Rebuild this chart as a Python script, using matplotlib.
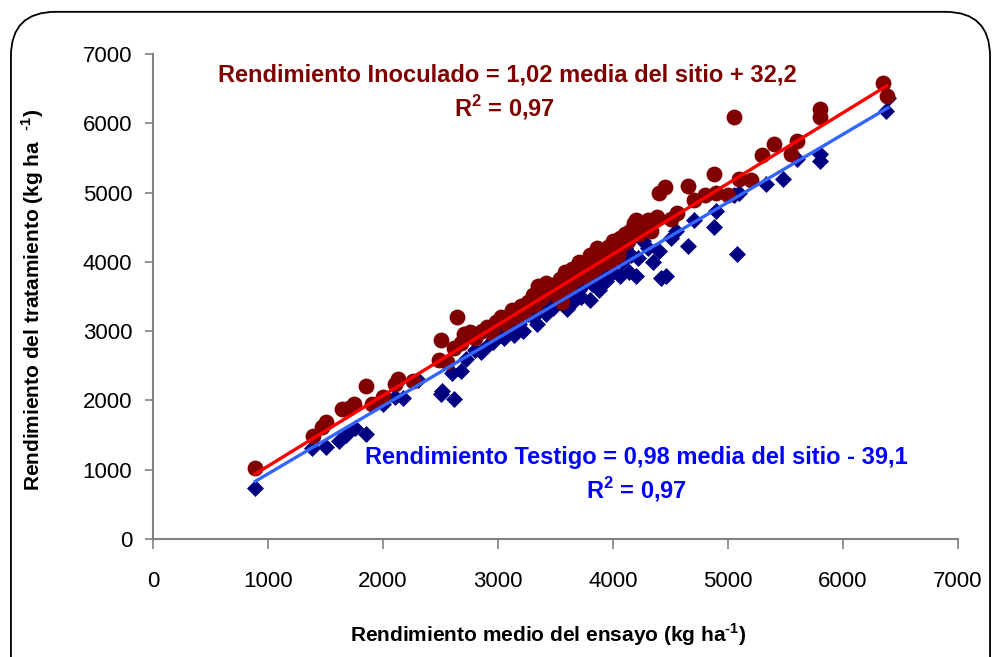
"""
Rendimiento del tratamiento vs rendimiento medio del ensayo (inoculado vs testigo)
"""

import matplotlib.pyplot as plt
from matplotlib.patches import FancyBboxPatch

plt.rcParams["font.family"] = ["Liberation Sans", "DejaVu Sans"]
plt.rcParams["mathtext.fontset"] = "custom"
plt.rcParams["mathtext.rm"] = "Liberation Sans:bold"
plt.rcParams["mathtext.bf"] = "Liberation Sans:bold"

# Inoculado (circulos rojo oscuro): media del ensayo, rendimiento
inoc_x = [889, 1390, 1470, 1500, 1640, 1700, 1750, 1850, 1900, 2000, 2100, 2130, 2260,
          2490, 2500, 2560, 2620, 2640, 2680, 2700, 2760, 2800, 2860, 2900, 2950, 2980,
          3030, 3060, 3100, 3120, 3160, 3200, 3230, 3260, 3300, 3320, 3350, 3380, 3400,
          3420, 3450, 3480, 3500, 3520, 3540, 3560, 3580, 3600, 3620, 3640, 3660, 3680,
          3700, 3720, 3740, 3760, 3780, 3800, 3820, 3840, 3860, 3880, 3900, 3920, 3940,
          3960, 3980, 4000, 4020, 4040, 4060, 4080, 4100, 4130, 4150, 4180, 4200, 4230,
          4260, 4300, 4330, 4380, 4400, 4450, 4500, 4560, 4650, 4700, 4800, 4880, 4900,
          5000, 5050, 5100, 5200, 5300, 5400, 5550, 5600, 5800, 5800, 6350, 6380]
inoc_y = [1020, 1480, 1620, 1690, 1880, 1890, 1950, 2210, 1950, 2050, 2230, 2310, 2280,
          2580, 2870, 2560, 2750, 3210, 2830, 2960, 2990, 2900, 3000, 3060, 2970, 3130,
          3200, 3100, 3230, 3300, 3200, 3360, 3280, 3420, 3520, 3380, 3650, 3480, 3590,
          3700, 3580, 3660, 3620, 3500, 3750, 3420, 3850, 3700, 3640, 3900, 3800, 3750,
          4000, 3860, 3820, 3950, 3780, 4100, 4000, 3900, 4200, 4050, 3970, 4150, 4080,
          4220, 4000, 4300, 4180, 4100, 4350, 4250, 4400, 4300, 4450, 4560, 4600, 4400,
          4520, 4600, 4450, 4650, 5000, 5080, 4620, 4700, 5100, 4900, 4960, 5270, 5000,
          4960, 6090, 5200, 5180, 5540, 5700, 5560, 5750, 6200, 6090, 6580, 6400]

# Testigo (rombos azul oscuro)
test_x = [890, 1380, 1500, 1620, 1680, 1760, 1850, 2000, 2100, 2170, 2300, 2500, 2510,
          2600, 2620, 2680, 2720, 2800, 2850, 2900, 2960, 3000, 3050, 3100, 3140, 3180,
          3220, 3260, 3300, 3340, 3380, 3420, 3440, 3480, 3500, 3520, 3560, 3580, 3600,
          3640, 3660, 3700, 3720, 3760, 3800, 3820, 3860, 3880, 3900, 3940, 3960, 4000,
          4020, 4060, 4080, 4100, 4140, 4160, 4200, 4220, 4260, 4300, 4350, 4400, 4420,
          4460, 4500, 4550, 4650, 4700, 4880, 4900, 5050, 5080, 5100, 5330, 5480, 5600,
          5800, 5800, 6370, 6390]
test_y = [740, 1320, 1330, 1420, 1500, 1600, 1520, 1950, 2050, 2030, 2300, 2100, 2140,
          2400, 2020, 2430, 2600, 2730, 2700, 2780, 2850, 2980, 2900, 3020, 2950, 3100,
          3000, 3250, 3200, 3100, 3330, 3250, 3400, 3340, 3600, 3450, 3800, 3500, 3320,
          3400, 3550, 3600, 3500, 3700, 3450, 3680, 3750, 3600, 3800, 3720, 3900, 3850,
          3980, 3800, 4000, 4200, 3850, 4100, 3800, 4050, 4300, 4200, 4000, 4150, 3770,
          3800, 4350, 4450, 4230, 4600, 4510, 4730, 4960, 4120, 5000, 5130, 5200, 5480,
          5450, 5560, 6180, 6360]

# ajustes lineales publicados
inoc_fit = (1.02, 32.2)
test_fit = (0.98, -39.1)

ticks = [0, 1000, 2000, 3000, 4000, 5000, 6000, 7000]


def fit_line(xs, coef):
    x0, x1 = min(xs), max(xs)
    return [x0, x1], [coef[0] * x0 + coef[1], coef[0] * x1 + coef[1]]


fig = plt.figure(figsize=(9.95, 6.57), dpi=100)
ax = fig.add_axes([0.1538, 0.1796, 0.809, 0.7382])

# marco redondeado alrededor del grafico (cortado abajo)
frame = FancyBboxPatch((0.011, -0.2), 0.984, 1.182, boxstyle="round,pad=0,rounding_size=0.045",
                       transform=fig.transFigure, facecolor="none", edgecolor="black",
                       linewidth=1.3, clip_on=False, mutation_aspect=1.5)
fig.patches.append(frame)

ax.scatter(test_x, test_y, marker="D", s=75, color="#000080", zorder=2, linewidths=0)
ax.scatter(inoc_x, inoc_y, marker="o", s=130, color="#800000", zorder=3, linewidths=0)

lx, ly = fit_line(inoc_x, inoc_fit)
ax.plot(lx, ly, color="#FF0000", linewidth=2.4, zorder=4)
lx, ly = fit_line(test_x, test_fit)
ax.plot(lx, ly, color="#3366FF", linewidth=2.4, zorder=4)

ax.set_xlim(0, 7000)
ax.set_ylim(0, 7000)
ax.set_xticks(ticks)
ax.set_yticks(ticks)
for s in ["top", "right"]:
    ax.spines[s].set_visible(False)
for s in ["left", "bottom"]:
    ax.spines[s].set_color("#808080")
    ax.spines[s].set_linewidth(1.5)
ax.tick_params(axis="x", direction="out", length=7, width=1.2, color="#808080",
               labelsize=16, pad=16)
ax.tick_params(axis="y", direction="out", length=6, width=1.2, color="#808080",
               labelsize=16, pad=9)

fig.text(548 / 995, 1 - 635 / 657, "Rendimiento medio del ensayo (kg ha$^{\\text{-1}}$)",
         ha="center", va="center", fontsize=15, fontweight="bold")
fig.text(33 / 995, 1 - 300 / 657, "Rendimiento del tratamiento (kg ha  $^{\\text{-1}}$)",
         ha="center", va="center", rotation=90, fontsize=15, fontweight="bold")

ax.text(0.44, 0.957, "Rendimiento Inoculado = 1,02 media del sitio + 32,2",
        transform=ax.transAxes, ha="center", va="center", color="#800000",
        fontsize=17, fontweight="bold")
ax.text(0.437, 0.889, "R$^{2}$ = 0,97", transform=ax.transAxes, ha="center",
        va="center", color="#800000", fontsize=17, fontweight="bold")
ax.text(0.601, 0.169, "Rendimiento Testigo = 0,98 media del sitio - 39,1",
        transform=ax.transAxes, ha="center", va="center", color="#0000FF",
        fontsize=17, fontweight="bold")
ax.text(0.601, 0.101, "R$^{2}$ = 0,97", transform=ax.transAxes, ha="center",
        va="center", color="#0000FF", fontsize=17, fontweight="bold")

fig.savefig("out.png", dpi=100)
